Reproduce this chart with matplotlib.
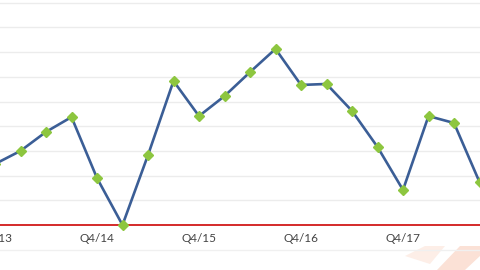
import numpy as np
import matplotlib.pyplot as plt
from matplotlib.patches import Polygon

# quarterly values, Q4/13 .. Q3/18 (no y scale shown)
quarters = ['Q4/13', 'Q1/14', 'Q2/14', 'Q3/14', 'Q4/14', 'Q1/15', 'Q2/15', 'Q3/15',
            'Q4/15', 'Q1/16', 'Q2/16', 'Q3/16', 'Q4/16', 'Q1/17', 'Q2/17', 'Q3/17',
            'Q4/17', 'Q1/18', 'Q2/18', 'Q3/18']
values = [2.47, 3.0, 3.77, 4.37, 1.9, 0.0, 2.83, 5.83, 4.41, 5.22, 6.19, 7.13,
          5.67, 5.71, 4.62, 3.16, 1.42, 4.41, 4.13, 1.74]
label_idx = [0, 4, 8, 12, 16]

fig = plt.figure(figsize=(4.8, 2.7), dpi=100)
ax = fig.add_axes([0, 1 - 225 / 270, 1, 225 / 270])

x = np.arange(len(values))
ax.plot(x, values, color='#3b5e96', lw=1.9, zorder=3, clip_on=False)
ax.plot(x, values, ls='none', marker='D', ms=4.8, color='#8dc63f',
        markeredgecolor='#8dc63f', zorder=4, clip_on=False)

ax.set_xlim(5 / 25.5, 485 / 25.5)
ax.set_ylim(0, 225 / 24.7)
for gy in np.arange(1, 10):
    ax.axhline(gy, color='#ececec', lw=1, zorder=1)
ax.axhline(0, color='#d42a2a', lw=1.4, zorder=2, clip_on=False)

ax.set_xticks([])
ax.set_yticks([])
for s in ax.spines.values():
    s.set_visible(False)

tr = ax.get_xaxis_transform()
for i in label_idx:
    ax.text(i, -13 / 225, quarters[i], transform=tr, ha='center', va='center',
            fontsize=8.5, color='#444444', family='Lato')

# faint rule and logo fragment below the chart
fig.add_artist(plt.Line2D([0, 1], [1 - 250 / 270] * 2, color='#f0f0f0', lw=1))
fig.add_artist(Polygon([[437 / 480, 0], [465 / 480, 0], [480 / 480, 14 / 270], [480 / 480, 24 / 270],
                        [460 / 480, 24 / 270]], closed=True, color='#fbe1d6', lw=0))
fig.add_artist(Polygon([[405 / 480, 14 / 270], [425 / 480, 24 / 270], [445 / 480, 24 / 270],
                        [430 / 480, 6 / 270]], closed=True, color='#fdeee7', lw=0))

fig.savefig('out.png', dpi=100)
